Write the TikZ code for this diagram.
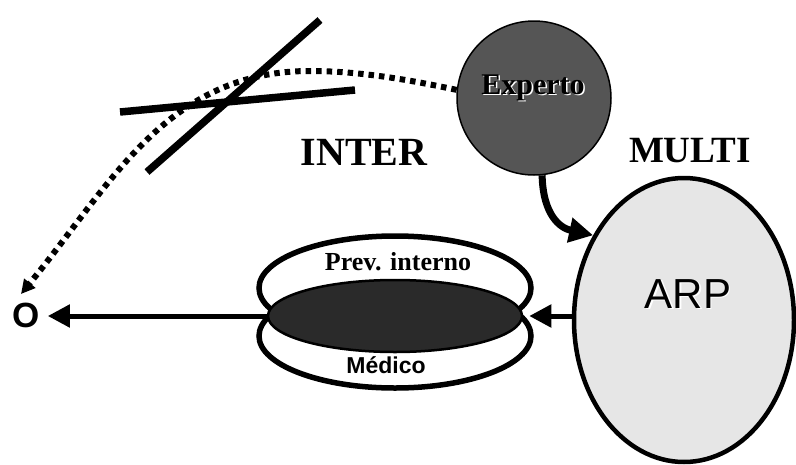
\documentclass[tikz,border=0pt]{standalone}
\usepackage{fontspec}
\setmainfont{Liberation Serif}
\setsansfont{Liberation Sans}
\usetikzlibrary{arrows.meta,shapes.geometric}
\definecolor{expgray}{HTML}{555555}
\definecolor{lensgray}{HTML}{2A2A2A}
\definecolor{arpgray}{HTML}{E6E6E6}

\begin{document}
\begin{tikzpicture}[x=1pt,y=-1pt,
    ring/.style={ellipse,draw,line width=5.5pt,fill=white,inner sep=0pt,
      minimum width=272pt,minimum height=104pt},
    arr/.style={line width=5pt,-{Triangle[length=22pt,width=22pt]}},
    big/.style={font=\bfseries\fontsize{#1}{#1}\selectfont,inner sep=0pt,anchor=base},
    sans/.style={font=\sffamily\fontsize{#1}{#1}\selectfont,inner sep=0pt,anchor=base},
    sansbf/.style={font=\sffamily\bfseries\fontsize{#1}{#1}\selectfont,inner sep=0pt,anchor=base}]
    \useasboundingbox (0,0) rectangle (796,464);

    % Experto
    \node[circle,draw,fill=expgray,line width=1.5pt,minimum size=154pt] (exp) at (534,98) {};
    \node[big=30,white] at (534.5,95.5) {Experto};
    \node[big=30] (exptxt) at (533,94) {Experto};

    % dotted way round, crossed out
    \coordinate (dt) at (21,294);
    \draw[line width=6pt,dash pattern=on 5.5pt off 5pt,
      -{Triangle[length=14pt,width=14pt]}]
      (exp.174) .. controls (410,80) and (360,71) .. (310,71)
      .. controls (167,71) and (112,183) .. (dt);
    \draw[line width=7.5pt] (320,20) -- (147,172);
    \draw[line width=7.5pt] (120,112) -- (355,90);

    \node[big=40] (inter) at (364,165) {INTER};
    \node[big=37] (multi) at (690,162) {MULTI};

    % ARP
    \node[ellipse,draw,fill=arpgray,line width=4.5pt,inner sep=0pt,
      minimum width=220pt,minimum height=284pt] (arp) at (684,320) {};
    \node[sans=42,white] at (689.5,309.5) {ARP};
    \node[sans=42] (arptxt) at (688,308) {ARP};
    \draw[line width=7pt,-{Triangle[length=24pt,width=24pt]}]
      (exp.-84) .. controls (543,215) and (560,228) .. (arp.137);

    % Prev. interno / Medico
    \node[ring] (prev) at (395,288) {};
    \node[ring] (med) at (395,336) {};
    \node[ellipse,draw,fill=lensgray,line width=2.5pt,inner sep=0pt,
      minimum width=254pt,minimum height=72pt] (lens) at (395,316) {};
    \node[big=26] (prevtxt) at (398,270) {Prev. interno};
    \node[sansbf=23] (medtxt) at (386,373) {Médico};

    \node[sansbf=35] (o) at (26,327) {O};

    \draw[arr,shorten >=6pt] (arp.west |- lens.east) -- (lens.east);
    \draw[arr,shorten >=8pt] (lens.west) -- (lens.west -| o.east);
\end{tikzpicture}
\end{document}
